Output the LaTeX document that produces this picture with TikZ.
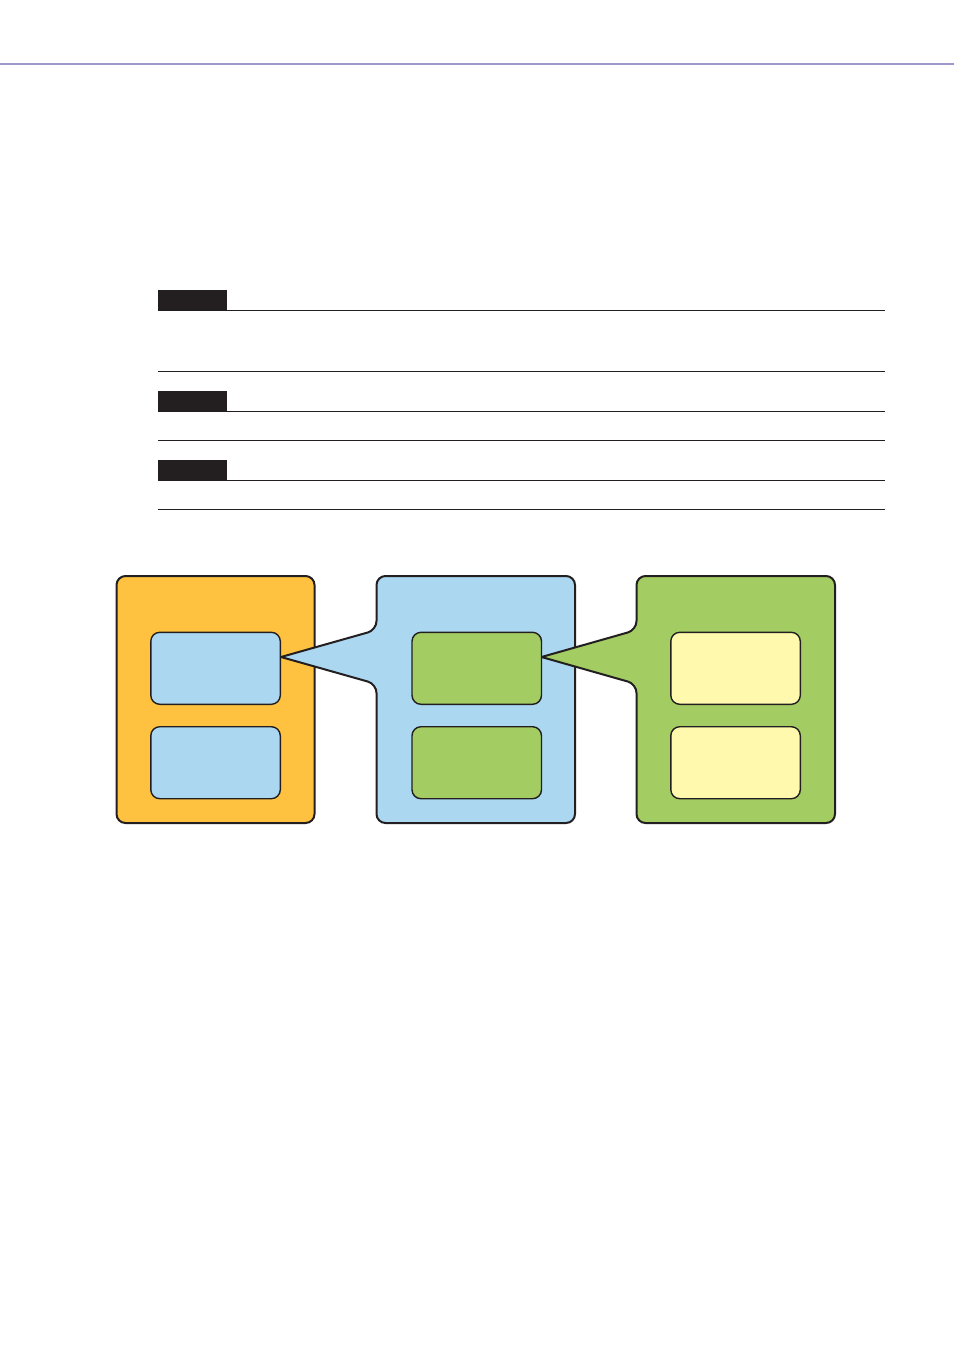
\documentclass[tikz,border=0pt]{standalone}
\usetikzlibrary{positioning}
\definecolor{hdr}{HTML}{9D99CB}
\definecolor{ink}{HTML}{231F20}
\definecolor{orng}{HTML}{FFC240}
\definecolor{skyb}{HTML}{ABD7F1}
\definecolor{leaf}{HTML}{A3CD62}
\definecolor{pale}{HTML}{FFF9AE}
\tikzset{
  rule/.style={draw=ink, line width=1pt},
  tabbox/.style={fill=ink, draw=none},
  outer/.style={draw=ink, line width=2pt, line join=round},
  inner/.style={draw=ink, line width=1.4pt, rounded corners=9pt, minimum width=129.5pt, minimum height=72pt, inner sep=0pt, outer sep=0pt, anchor=north west}
}
\begin{document}
\begin{tikzpicture}[x=1pt,y=-1pt]
\useasboundingbox (0,0) rectangle (954,1350);
\fill[white] (0,0) rectangle (954,1350);
% header line
\draw[hdr, line width=1.6pt] (0,64) -- (954,64);
% tabs and rules
\fill[tabbox] (158,290) rectangle (227,310.5);
\draw[rule] (158,310.5) -- (885,310.5);
\draw[rule] (158,371.5) -- (885,371.5);
\fill[tabbox] (158,391) rectangle (227,411.5);
\draw[rule] (158,411.5) -- (885,411.5);
\draw[rule] (158,440.5) -- (885,440.5);
\fill[tabbox] (158,460) rectangle (227,480.5);
\draw[rule] (158,480.5) -- (885,480.5);
\draw[rule] (158,509.5) -- (885,509.5);
% orange box
\draw[outer, fill=orng, rounded corners=9pt] (116.5,576) rectangle (314.5,823);
% blue callout
\draw[outer, fill=skyb] (376.5,600) [rounded corners=9pt] -- (376.5,576) -- (575,576) -- (575,823) -- (376.5,823) -- (376.5,684) [sharp corners] -- (281,657) [rounded corners=9pt] -- (376.5,630) -- (376.5,600);
\node[inner, fill=skyb] (o1) at (150.8,632.3) {};
\node[inner, fill=skyb] (o2) at (150.8,726.7) {};
% green callout
\draw[outer, fill=leaf] (636.5,600) [rounded corners=9pt] -- (636.5,576) -- (835,576) -- (835,823) -- (636.5,823) -- (636.5,684) [sharp corners] -- (541.5,657) [rounded corners=9pt] -- (636.5,630) -- (636.5,600);
\node[inner, fill=leaf] (b1) at (412,632.3) {};
\node[inner, fill=leaf] (b2) at (412,726.7) {};
\node[inner, fill=pale] (g1) at (670.8,632.3) {};
\node[inner, fill=pale] (g2) at (670.8,726.7) {};
\end{tikzpicture}
\end{document}
